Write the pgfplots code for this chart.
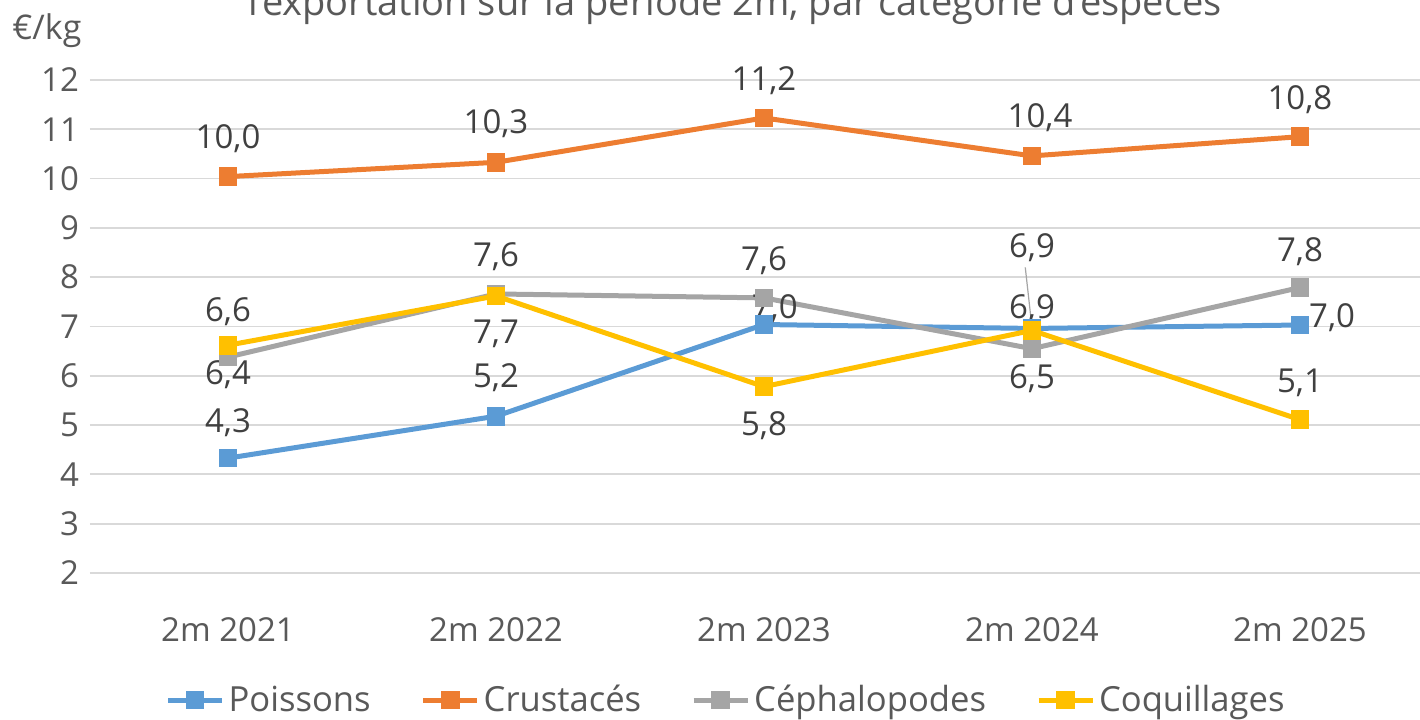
\documentclass[border=0pt]{standalone}
\usepackage{fontspec}
\setmainfont{Open Sans}
\usepackage{pgfplots}
\pgfplotsset{compat=1.18}
\definecolor{cblue}{HTML}{5B9BD5}
\definecolor{corange}{HTML}{ED7D31}
\definecolor{cgray}{HTML}{A5A5A5}
\definecolor{cyellow}{HTML}{FFC000}
\definecolor{tickc}{HTML}{595959}
\definecolor{labc}{HTML}{404040}
\definecolor{gridc}{HTML}{D9D9D9}
\begin{document}
\begin{tikzpicture}
\begin{axis}[
  scale only axis, width=665pt, height=246.5pt,
  xmin=-0.515, xmax=4.448, ymin=2, ymax=12,
  clip=false,
  axis line style={draw=none},
  major tick length=0pt,
  ytick={2,3,...,12},
  ymajorgrids, xmajorgrids=false,
  y grid style={color=gridc, line width=0.9pt},
  xtick={0,1,2,3,4},
  xticklabels={2m 2021,2m 2022,2m 2023,2m 2024,2m 2025},
  tick label style={font=\fontsize{16.5}{19}\selectfont, text=tickc},
  /pgf/number format/assume math mode=true,
  xticklabel style={yshift=-19pt},
  yticklabel style={xshift=-2pt},
  legend style={draw=none, at={(0.479,-0.258)}, anchor=center,
     font=\fontsize{17.3}{20}\selectfont, text=tickc,
     /tikz/every even column/.append style={column sep=23pt}},
  legend columns=4,
  legend image code/.code={\draw[mark repeat=2,mark phase=2] plot coordinates {(0pt,0pt)(13.5pt,0pt)(27pt,0pt)};},
  every axis plot/.append style={line width=2.5pt, mark=square*, mark size=3.4pt, mark options={solid}},
]
\addplot[cblue] coordinates {(0,4.33) (1,5.18) (2,7.04) (3,6.96) (4,7.03)};
\addlegendentry{Poissons}
\addplot[corange] coordinates {(0,10.04) (1,10.33) (2,11.23) (3,10.46) (4,10.85)};
\addlegendentry{Crustacés}
\addplot[cgray] coordinates {(0,6.38) (1,7.66) (2,7.58) (3,6.55) (4,7.79)};
\addlegendentry{Céphalopodes}
\addplot[cyellow] coordinates {(0,6.62) (1,7.62) (2,5.78) (3,6.92) (4,5.11)};
\addlegendentry{Coquillages}
\draw[cgray, line width=0.6pt] (axis cs:2.975,8.2) -- (axis cs:3.0,6.98);
\begin{scope}[every node/.style={font=\fontsize{16.5}{19}\selectfont, text=labc, inner sep=1pt}]
\node at (axis cs:0,10.81) {10,0};
\node at (axis cs:1,11.11) {10,3};
\node at (axis cs:2,11.98) {11,2};
\node at (axis cs:3.03,11.23) {10,4};
\node at (axis cs:4,11.61) {10,8};
\node at (axis cs:0,5.04) {4,3};
\node at (axis cs:1,5.96) {5,2};
\node at (axis cs:2.04,7.36) {7,0};
\node at (axis cs:3,7.36) {6,9};
\node at (axis cs:4.12,7.17) {7,0};
\node at (axis cs:0,6.02) {6,4};
\node at (axis cs:1,6.85) {7,7};
\node at (axis cs:2,8.33) {7,6};
\node at (axis cs:3,5.94) {6,5};
\node at (axis cs:4,8.51) {7,8};
\node at (axis cs:0,7.31) {6,6};
\node at (axis cs:1,8.41) {7,6};
\node at (axis cs:2,4.98) {5,8};
\node at (axis cs:3,8.59) {6,9};
\node at (axis cs:4,5.85) {5,1};
\end{scope}
\end{axis}
\node[anchor=base, font=\fontsize{19}{22}\selectfont, text=tickc] at ([xshift=322.5pt,yshift=32pt]current axis.north west) {l'exportation sur la période 2m, par catégorie d'espèces};
\node[anchor=base west, font=\fontsize{17}{20}\selectfont, text=tickc, inner sep=0pt] at ([xshift=-39pt,yshift=20pt]current axis.north west) {€/kg};
\pgfresetboundingbox
\useasboundingbox ([xshift=-45pt,yshift=-73.5pt]current axis.south west) rectangle ([yshift=40pt]current axis.north east);
\end{tikzpicture}
\end{document}
